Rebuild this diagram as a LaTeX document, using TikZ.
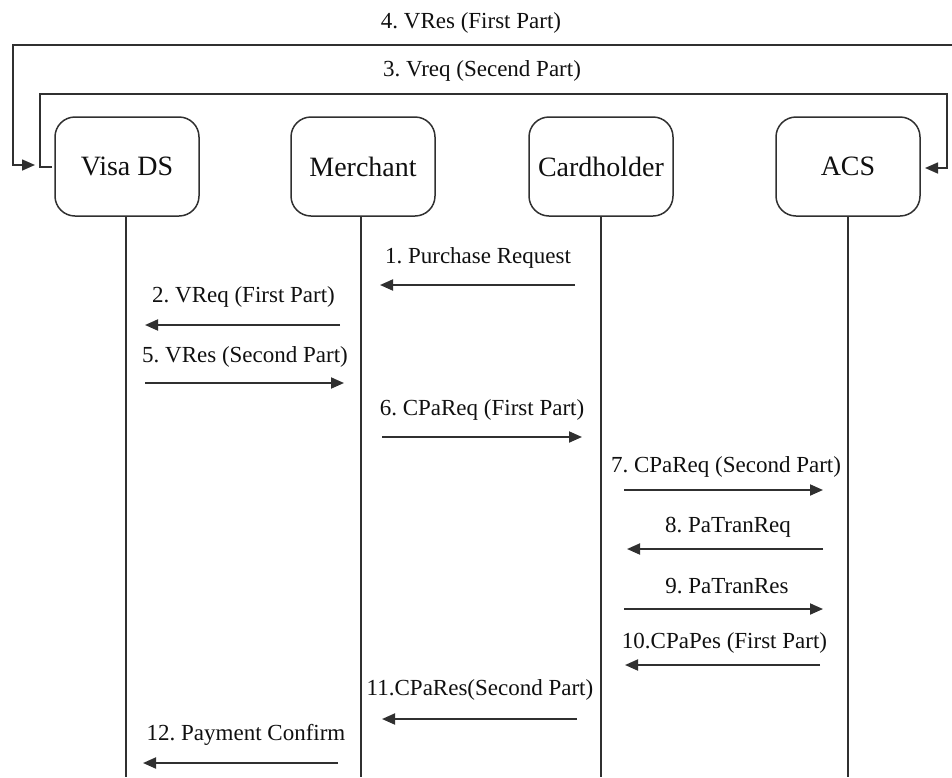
\documentclass[tikz,border=0pt]{standalone}
\usepackage{fontspec}
\setmainfont{Liberation Serif}
\usetikzlibrary{arrows.meta}
\definecolor{ln}{HTML}{303030}
\definecolor{tx}{HTML}{101010}
\frenchspacing
\tikzset{
  tip/.tip={Triangle[length=13pt,width=11pt]},
  actor/.style={draw=ln, line width=1.5pt, rounded corners=20pt, minimum width=144pt, minimum height=99pt, text=tx, font=\fontsize{28}{30}\selectfont, inner sep=0pt},
  life/.style={draw=ln, line width=1.9pt},
  msg/.style={draw=ln, line width=1.9pt, -tip},
  loop/.style={draw=ln, line width=1.6pt},
  lbl/.style={text=tx, font=\fontsize{23}{25}\selectfont, anchor=base, inner sep=0pt}
}
\begin{document}
\begin{tikzpicture}[x=1pt,y=-1pt]
\useasboundingbox (0,0) rectangle (952,777);
% actors
\node[actor] (visa) at (127,166.5) {Visa DS};
\node[actor] (merch) at (363,166.5) {Merchant};
\node[actor] (card) at (601,166.5) {Cardholder};
\node[actor] (acs) at (848,166.5) {ACS};
% lifelines
\coordinate (visaE) at (126,777);
\coordinate (merchE) at (361,777);
\coordinate (cardE) at (601,777);
\coordinate (acsE) at (848,777);
\draw[life] (visa.south -| visaE) -- (visaE);
\draw[life] (merch.south -| merchE) -- (merchE);
\draw[life] (card.south -| cardE) -- (cardE);
\draw[life] (acs.south -| acsE) -- (acsE);
% top loops
\coordinate (o1) at (953,45);
\coordinate (o2) at (35,165);
\draw[loop, -tip] (o1) -- (13,45) -- (13,165) -- (o2);
\node[lbl] (l4) at (471,28) {4. VRes (First Part)};
\coordinate (i1) at (52,167);
\coordinate (i2) at (925,168);
\draw[loop, -tip] (i1) -- (40,167) -- (40,94) -- (947,94) -- (947,168) -- (i2);
\node[lbl] (l3) at (482,76) {3. Vreq (Secend Part)};
% messages
\coordinate (m1a) at (575,285); \coordinate (m1b) at (380,285);
\draw[msg] (m1a) -- (m1b);
\node[lbl] (l1) at (478,263) {1. Purchase Request};
\coordinate (m2a) at (340,325); \coordinate (m2b) at (145,325);
\draw[msg] (m2a) -- (m2b);
\node[lbl] (l2) at (243.5,302) {2. VReq (First Part)};
\coordinate (m5a) at (145,383); \coordinate (m5b) at (344,383);
\draw[msg] (m5a) -- (m5b);
\node[lbl] (l5) at (245,362) {5. VRes (Second Part)};
\coordinate (m6a) at (382,437); \coordinate (m6b) at (582,437);
\draw[msg] (m6a) -- (m6b);
\node[lbl] (l6) at (482,415) {6. CPaReq (First Part)};
\coordinate (m7a) at (624,490); \coordinate (m7b) at (823,490);
\draw[msg] (m7a) -- (m7b);
\node[lbl] (l7) at (726,472) {7. CPaReq (Second Part)};
\coordinate (m8a) at (823,549); \coordinate (m8b) at (627,549);
\draw[msg] (m8a) -- (m8b);
\node[lbl] (l8) at (728,532) {8. PaTranReq};
\coordinate (m9a) at (624,609); \coordinate (m9b) at (823,609);
\draw[msg] (m9a) -- (m9b);
\node[lbl] (l9) at (727,593) {9. PaTranRes};
\coordinate (m10a) at (820,665); \coordinate (m10b) at (625,665);
\draw[msg] (m10a) -- (m10b);
\node[lbl] (l10) at (724.5,648) {10.CPaPes (First Part)};
\coordinate (m11a) at (577,719); \coordinate (m11b) at (382,719);
\draw[msg] (m11a) -- (m11b);
\node[lbl] (l11) at (480,695) {11.CPaRes(Second Part)};
\coordinate (m12a) at (338,763); \coordinate (m12b) at (143,763);
\draw[msg] (m12a) -- (m12b);
\node[lbl] (l12) at (246,740) {12. Payment Confirm};
\end{tikzpicture}
\end{document}
